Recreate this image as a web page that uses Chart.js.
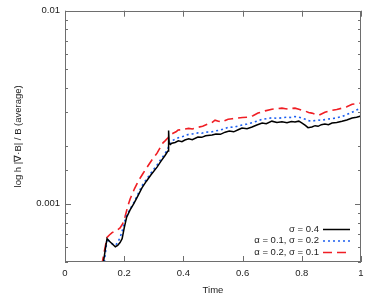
<!DOCTYPE html>
<html>
<head>
<meta charset="utf-8">
<script src="https://cdn.jsdelivr.net/npm/chart.js@4"></script>
<style>
  html, body { margin: 0; padding: 0; background: #fff; }
  #chart { display: block; }
</style>
</head>
<body>
<canvas id="chart" width="374" height="299"></canvas>
<script>
// Series (time, averaged divergence error)
const tBlack = [0.130,0.136,0.142,0.150,0.160,0.170,0.178,0.186,0.193,0.200,0.208,0.220,0.232,0.245,0.260,0.275,0.290,0.311,0.325,0.338,0.345,0.348,0.350,0.352,0.356,0.361,0.372,0.383,0.395,0.405,0.418,0.430,0.449,0.462,0.475,0.497,0.510,0.525,0.541,0.555,0.570,0.585,0.598,0.615,0.632,0.648,0.666,0.680,0.699,0.716,0.733,0.750,0.765,0.777,0.790,0.801,0.812,0.821,0.834,0.845,0.855,0.866,0.878,0.890,0.902,0.918,0.936,0.952,0.970,0.985,0.997,1.0];
const vBlack = [0.00050,0.00058,0.00066,0.00064,0.00062,0.00060,0.00061,0.00063,0.00066,0.00075,0.00085,0.00093,0.00100,0.00109,0.00121,0.00131,0.00141,0.00155,0.00167,0.00178,0.00185,0.00188,0.00240,0.00206,0.00203,0.00206,0.00208,0.00212,0.00210,0.00214,0.00217,0.00215,0.00222,0.00221,0.00225,0.00227,0.00230,0.00229,0.00235,0.00238,0.00236,0.00242,0.00247,0.00245,0.00250,0.00256,0.00262,0.00260,0.00268,0.00264,0.00266,0.00263,0.00267,0.00265,0.00268,0.00262,0.00255,0.00248,0.00250,0.00254,0.00252,0.00257,0.00259,0.00257,0.00262,0.00264,0.00268,0.00272,0.00278,0.00281,0.00284,0.00286];

const tBlue = [0.133,0.138,0.142,0.150,0.160,0.170,0.178,0.186,0.193,0.200,0.208,0.220,0.232,0.245,0.260,0.275,0.290,0.311,0.325,0.338,0.345,0.352,0.361,0.372,0.383,0.395,0.405,0.418,0.430,0.449,0.462,0.475,0.497,0.510,0.525,0.541,0.555,0.570,0.585,0.598,0.615,0.632,0.648,0.666,0.680,0.699,0.716,0.733,0.750,0.765,0.777,0.790,0.801,0.812,0.821,0.834,0.845,0.855,0.866,0.878,0.890,0.902,0.918,0.936,0.952,0.970,0.985,0.997,1.0];
const vBlue = [0.00050,0.00058,0.00066,0.00064,0.00062,0.00061,0.00063,0.00067,0.00072,0.00080,0.00087,0.00094,0.00101,0.00111,0.00124,0.00134,0.00144,0.00159,0.00171,0.00182,0.00190,0.00200,0.00212,0.00216,0.00220,0.00222,0.00226,0.00229,0.00230,0.00233,0.00232,0.00235,0.00236,0.00239,0.00241,0.00246,0.00250,0.00249,0.00253,0.00256,0.00259,0.00263,0.00268,0.00274,0.00276,0.00279,0.00277,0.00279,0.00281,0.00280,0.00283,0.00281,0.00278,0.00274,0.00270,0.00268,0.00270,0.00272,0.00270,0.00273,0.00275,0.00276,0.00279,0.00283,0.00290,0.00298,0.00306,0.00313,0.00316];

const tRed = [0.124,0.134,0.142,0.150,0.159,0.168,0.176,0.186,0.195,0.203,0.212,0.220,0.235,0.250,0.264,0.280,0.295,0.311,0.322,0.331,0.338,0.348,0.355,0.365,0.375,0.382,0.395,0.405,0.418,0.430,0.449,0.465,0.483,0.495,0.507,0.518,0.530,0.541,0.551,0.565,0.584,0.600,0.618,0.635,0.652,0.666,0.676,0.699,0.716,0.733,0.745,0.757,0.768,0.777,0.790,0.801,0.812,0.823,0.834,0.845,0.858,0.868,0.878,0.890,0.902,0.918,0.936,0.952,0.970,0.985,0.997,1.0];
const vRed = [0.00048,0.00058,0.00067,0.00069,0.00071,0.00072,0.00073,0.00075,0.00079,0.00086,0.00097,0.00106,0.00120,0.00133,0.00144,0.00157,0.00170,0.00183,0.00196,0.00207,0.00212,0.00220,0.00227,0.00232,0.00236,0.00241,0.00242,0.00244,0.00246,0.00244,0.00249,0.00252,0.00259,0.00262,0.00271,0.00268,0.00265,0.00270,0.00274,0.00276,0.00278,0.00280,0.00281,0.00286,0.00295,0.00300,0.00303,0.00309,0.00311,0.00313,0.00311,0.00309,0.00312,0.00313,0.00309,0.00305,0.00302,0.00297,0.00295,0.00291,0.00288,0.00293,0.00298,0.00302,0.00305,0.00308,0.00313,0.00318,0.00328,0.00330,0.00332,0.00334];

const seriesLabels = ['σ = 0.4', 'α = 0.1, σ = 0.2', 'α = 0.2, σ = 0.1'];
const xTicks = [0, 0.2, 0.4, 0.6, 0.8, 1];
const yLabelled = [0.001, 0.01];

const FONT = "'Liberation Sans', Arial, sans-serif";
const FRAME = '#6e6e6e';

function toPoints(ts, vs) {
    return ts.map((t, i) => ({ x: t, y: vs[i] }));
}

function isDecade(v) {
    const l = Math.log10(v);
    return Math.abs(l - Math.round(l)) < 1e-6;
}

// Border box plus inward (mirrored) tick marks, gnuplot style
const frameTicks = {
    id: 'frameTicks',
    afterDatasetsDraw(chart) {
        const { ctx, chartArea: a, scales: { x, y } } = chart;
        ctx.save();
        ctx.strokeStyle = FRAME;
        ctx.lineWidth = 1;
        ctx.beginPath();
        x.ticks.forEach(t => {
            const px = Math.round(x.getPixelForValue(t.value)) + 0.5;
            ctx.moveTo(px, a.bottom); ctx.lineTo(px, a.bottom - 6);
            ctx.moveTo(px, a.top); ctx.lineTo(px, a.top + 6);
        });
        y.ticks.forEach(t => {
            const py = Math.round(y.getPixelForValue(t.value)) + 0.5;
            const len = isDecade(t.value) ? 6 : 3;
            ctx.moveTo(a.left, py); ctx.lineTo(a.left + len, py);
            ctx.moveTo(a.right, py); ctx.lineTo(a.right - len, py);
        });
        ctx.stroke();
        ctx.strokeRect(Math.round(a.left) + 0.5, Math.round(a.top) + 0.5,
            Math.round(a.width) - 1, Math.round(a.height) - 1);
        ctx.restore();
    }
};

// Legend in the lower right: right-aligned text, line sample after it
const keyBox = {
    id: 'keyBox',
    afterDraw(chart) {
        const { ctx, chartArea: a } = chart;
        ctx.save();
        ctx.font = '9.5px ' + FONT;
        ctx.textAlign = 'right';
        ctx.textBaseline = 'middle';
        chart.data.datasets.forEach((ds, i) => {
            const yy = a.bottom - 33 + i * 11.5;
            ctx.fillStyle = '#222';
            ctx.fillText(ds.label, a.right - 42, yy);
            ctx.strokeStyle = ds.borderColor;
            ctx.lineWidth = ds.borderWidth;
            ctx.setLineDash(ds.borderDash || []);
            ctx.beginPath();
            ctx.moveTo(a.right - 38, yy + 0.5);
            ctx.lineTo(a.right - 11, yy + 0.5);
            ctx.stroke();
        });
        ctx.restore();
    }
};

new Chart(document.getElementById('chart'), {
    type: 'line',
    data: {
        datasets: [
            {
                label: seriesLabels[0],
                data: toPoints(tBlack, vBlack),
                borderColor: '#000000',
                borderWidth: 1.5,
                pointRadius: 0,
                tension: 0
            },
            {
                label: seriesLabels[1],
                data: toPoints(tBlue, vBlue),
                borderColor: '#1c5ff0',
                borderWidth: 1.6,
                borderDash: [2, 3],
                pointRadius: 0,
                tension: 0
            },
            {
                label: seriesLabels[2],
                data: toPoints(tRed, vRed),
                borderColor: '#f01e24',
                borderWidth: 1.6,
                borderDash: [9, 5],
                pointRadius: 0,
                tension: 0
            }
        ]
    },
    options: {
        responsive: false,
        devicePixelRatio: 1,
        animation: false,
        layout: { padding: { top: 10, right: 13, left: 0, bottom: 0 } },
        plugins: {
            legend: { display: false },
            tooltip: { enabled: false }
        },
        scales: {
            x: {
                type: 'linear',
                min: 0,
                max: 1,
                afterBuildTicks: scale => { scale.ticks = xTicks.map(v => ({ value: v })); },
                afterFit: scale => { scale.height = 37; },
                grid: { display: false, drawTicks: false },
                border: { display: false },
                ticks: {
                    color: '#222',
                    padding: 6,
                    font: { family: FONT, size: 9.5 },
                    callback: v => String(v)
                },
                title: {
                    display: true,
                    text: 'Time',
                    color: '#222',
                    font: { family: FONT, size: 9.5 },
                    padding: { top: 0, bottom: 3 }
                }
            },
            y: {
                type: 'logarithmic',
                min: 0.0005,
                max: 0.01,
                afterFit: scale => { scale.width = 65; },
                grid: { display: false, drawTicks: false },
                border: { display: false },
                ticks: {
                    color: '#222',
                    padding: 5,
                    autoSkip: false,
                    font: { family: FONT, size: 9.5 },
                    callback: v => {
                        const hit = yLabelled.find(l => Math.abs(v - l) / l < 1e-6);
                        return hit === undefined ? '' : String(hit);
                    }
                },
                title: {
                    display: true,
                    text: 'log h |∇·B| / B (average)',
                    color: '#222',
                    font: { family: FONT, size: 9.5 },
                    padding: { top: 13, bottom: 0 }
                }
            }
        }
    },
    plugins: [frameTicks, keyBox]
});
</script>
</body>
</html>
